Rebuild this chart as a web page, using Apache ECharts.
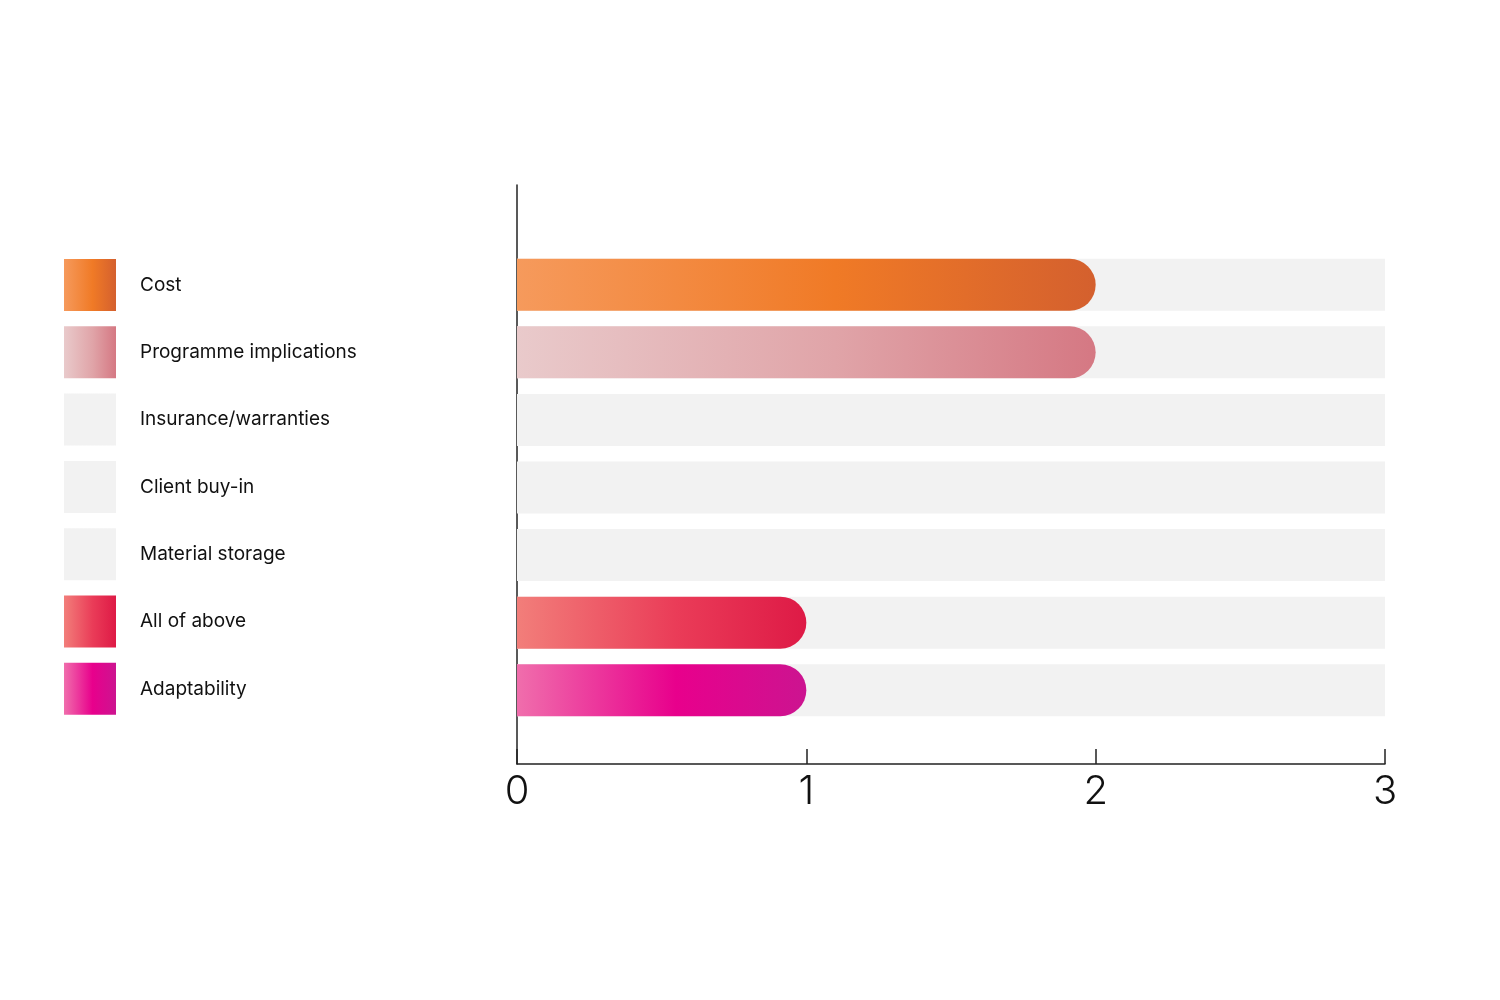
<!DOCTYPE html>
<html>
<head>
<meta charset="utf-8">
<script src="https://cdn.jsdelivr.net/npm/echarts@6/dist/echarts.min.js"></script>
<style>
  html, body { margin: 0; padding: 0; background: #fff; }
  #main { width: 1500px; height: 1000px; }
</style>
</head>
<body>
<div id="main"></div>
<script>
// categories top to bottom
const categories = ['Cost', 'Programme implications', 'Insurance/warranties', 'Client buy-in', 'Material storage', 'All of above', 'Adaptability']
const values = [2, 2, 0, 0, 0, 1, 1]
const xTicks = [0, 1, 2, 3]

// gradient stops per category (left -> right)
const palettes = [
    ['#f69a5c', '#f07a26', '#d4602e'],
    ['#e9cacb', '#e0a4a8', '#d57883'],
    ['#f2f2f2', '#f2f2f2', '#f2f2f2'],
    ['#f2f2f2', '#f2f2f2', '#f2f2f2'],
    ['#f2f2f2', '#f2f2f2', '#f2f2f2'],
    ['#f27e7a', '#ea3c58', '#de1a46'],
    ['#f06eac', '#e8008c', '#cc1490']
]

const grad = c => new echarts.graphic.LinearGradient(0, 0, 1, 0, [
    { offset: 0, color: c[0] },
    { offset: 0.55, color: c[1] },
    { offset: 1, color: c[2] }
])

const myChart = echarts.init(document.getElementById('main'))

const series = categories.map((name, i) => ({
    name: name,
    type: 'bar',
    stack: 'all',
    xAxisIndex: 0,
    yAxisIndex: 0,
    barWidth: 52,
    showBackground: i === 0,
    backgroundStyle: { color: '#f2f2f2' },
    itemStyle: { color: grad(palettes[i]), borderRadius: [0, 26, 26, 0] },
    emphasis: { disabled: true },
    data: categories.map((c, j) => (j === i ? values[i] : '-'))
}))

myChart.setOption({
    animation: false,
    backgroundColor: '#ffffff',
    legend: {
        orient: 'vertical',
        left: 64,
        top: 259,
        padding: 0,
        itemWidth: 52,
        itemHeight: 52,
        itemGap: 15.3,
        icon: 'rect',
        selectedMode: false,
        itemStyle: { borderRadius: 0 },
        textStyle: { fontFamily: 'Inter', fontSize: 19, color: '#111', padding: [0, 0, 0, 19] },
        data: categories
    },
    grid: [
        // bars
        { left: 517, right: 115, top: 251, height: 473 },
        // axis frame
        { left: 517, right: 115, top: 185, bottom: 236 }
    ],
    xAxis: [
        { gridIndex: 0, type: 'value', min: 0, max: 3, show: false },
        {
            gridIndex: 1, type: 'value', min: 0, max: 3, interval: 1,
            axisLine: { show: true, lineStyle: { color: '#222', width: 1.5 } },
            axisTick: { show: true, inside: true, length: 15, lineStyle: { color: '#222', width: 1.5 } },
            splitLine: { show: false },
            axisLabel: {
                fontFamily: 'Inter', fontWeight: 300, fontSize: 40, color: '#111', margin: 8,
                formatter: v => xTicks.includes(v) ? String(v) : ''
            }
        }
    ],
    yAxis: [
        {
            gridIndex: 0, type: 'category', data: categories, inverse: true, show: false
        },
        {
            gridIndex: 1, type: 'value', min: 0, max: 1,
            axisLine: { show: true, lineStyle: { color: '#222', width: 1.5 } },
            axisTick: { show: false },
            axisLabel: { show: false },
            splitLine: { show: false }
        }
    ],
    series: series
})
</script>
</body>
</html>
